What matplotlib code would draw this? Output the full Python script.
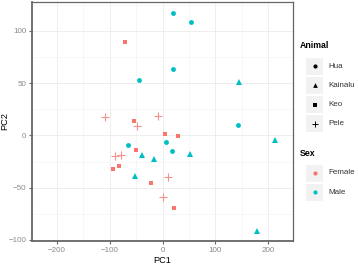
import matplotlib
matplotlib.use('Agg')
from matplotlib import pyplot as plt
from matplotlib.patches import Rectangle
import numpy as np

plt.rcParams['font.family'] = ['Liberation Sans', 'DejaVu Sans']

# PCA scores
hua_x = [20, 54, 20, -45, 143, -65, 6, 18]
hua_y = [117, 108.6, 63.7, 53, 9.5, -9.6, -6.7, -15.3]
kai_x = [146, -38, -16, 53, -52, 180, 212.5]
kai_y = [51, -19, -23, -18, -39, -91, -4.4]
keo_x = [-70.4, -54, 4.4, 29.6, -51, -82.4, -93, -22, 22]
keo_y = [89.2, 14, 1, -0.3, -14.3, -29.3, -31.8, -45.5, -69.4]
pele_x = [-110, -8.2, -47.8, -89.3, -78, 10.7, 0]
pele_y = [17.2, 18.2, 9.2, -19.7, -18.5, -39.5, -59.2]

animals = ['Hua', 'Kainalu', 'Keo', 'Pele']
sexes = ['Female', 'Male']
sex_cols = {'Female': '#F8766D', 'Male': '#00BFC4'}
xticks = [-200, -100, 0, 100, 200]
yticks = [-100, -50, 0, 50, 100]

fig = plt.figure(figsize=(3.58, 2.68), dpi=100)
ax = fig.add_axes([32/358, 1-241/268, (293-32)/358, (241-2)/268])

# grid
for v in [-250, -150, -50, 50, 150, 250]:
    ax.axvline(v, color='#F4F4F4', lw=0.5, zorder=0)
for v in xticks:
    ax.axvline(v, color='#EBEBEB', lw=0.6, zorder=0)
for v in [-75, -25, 25, 75, 125]:
    ax.axhline(v, color='#F4F4F4', lw=0.5, zorder=0)
for v in yticks:
    ax.axhline(v, color='#EBEBEB', lw=0.6, zorder=0)

ms = 3.5
ax.plot(hua_x, hua_y, 'o', color=sex_cols['Male'], ms=ms, mew=0, zorder=3)
ax.plot(kai_x, kai_y, '^', color=sex_cols['Male'], ms=ms+0.5, mew=0, zorder=3)
ax.plot(keo_x, keo_y, 's', color=sex_cols['Female'], ms=ms, mew=0, zorder=3)
ax.plot(pele_x, pele_y, '+', color='#F4928C', ms=6, mew=0.8, zorder=3)

ax.set_xlim(-247.5, 247.5)
ax.set_ylim(-101, 127.5)
ax.set_xticks(xticks)
ax.set_yticks(yticks)
ax.set_xticklabels([str(t).replace('-', '\u2212') for t in xticks])
ax.set_yticklabels([str(t).replace('-', '\u2212') for t in yticks])
ax.tick_params(colors='#666666', labelcolor='#8A8A8A', labelsize=5.8, length=2.5, width=0.8, pad=1.5)
for s in ax.spines.values():
    s.set_color('#666666')
    s.set_linewidth(0.9)
ax.spines['left'].set_linewidth(1.3)
ax.spines['bottom'].set_linewidth(1.3)
ax.set_xlabel('PC1', fontsize=6.6, labelpad=1.5)
ax.set_ylabel('PC2', fontsize=6.6)
ax.yaxis.set_label_coords((9 - 32) / 261, 0.5)

# legend drawn by hand
lg = fig.add_axes([0, 0, 1, 1], facecolor='none')
lg.set_xlim(0, 358)
lg.set_ylim(268, 0)
lg.axis('off')
kx, kw = 306, 17
txt_x = 328
lg.text(300, 46, 'Animal', fontsize=6.3, fontweight='bold', va='center')
shapes = {'Hua': ('o', 3.0), 'Kainalu': ('^', 3.4), 'Keo': ('s', 2.8), 'Pele': ('+', 5.0)}
for i, a in enumerate(animals):
    cy = 66 + i * 19.3
    lg.add_patch(Rectangle((kx, cy - kw/2), kw, kw, facecolor='#F2F2F2', edgecolor='none'))
    m, s = shapes[a]
    lg.plot(kx + kw/2, cy, m, color='black', ms=s, mew=0.7 if m == '+' else 0)
    lg.text(txt_x, cy, a, fontsize=5.8, color='#333333', va='center')
lg.text(300, 153, 'Sex', fontsize=6.3, fontweight='bold', va='center')
for i, sx in enumerate(sexes):
    cy = 173 + i * 19.3
    lg.add_patch(Rectangle((kx, cy - kw/2), kw, kw, facecolor='#F2F2F2', edgecolor='none'))
    lg.plot(kx + kw/2, cy, 'o', color=sex_cols[sx], ms=3.0, mew=0)
    lg.text(txt_x, cy, sx, fontsize=5.8, color='#333333', va='center')

fig.savefig('out.png', dpi=100)
